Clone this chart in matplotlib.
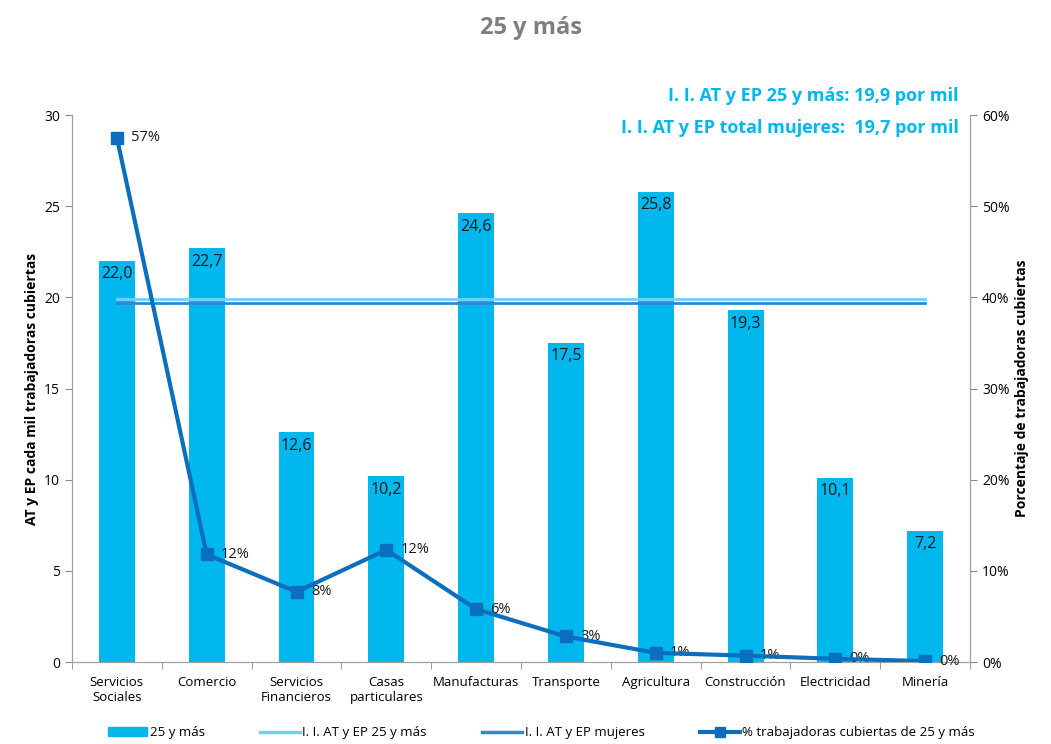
import numpy as np
import matplotlib.pyplot as plt
from matplotlib.lines import Line2D
from matplotlib.patches import Patch

categories = ["Servicios\nSociales", "Comercio", "Servicios\nFinancieros", "Casas\nparticulares",
              "Manufacturas", "Transporte", "Agricultura", "Construcción", "Electricidad", "Minería"]
rate_25 = [22.0, 22.7, 12.6, 10.2, 24.6, 17.5, 25.8, 19.3, 10.1, 7.2]
pct_covered = [57.5, 11.8, 7.7, 12.3, 5.8, 2.8, 1.0, 0.7, 0.35, 0.1]
pct_labels = ["57%", "12%", "8%", "12%", "6%", "3%", "1%", "1%", "0%", "0%"]
ii_25 = 19.9
ii_women = 19.7

plt.rcParams["font.family"] = ["Open Sans", "DejaVu Sans"]

cyan = "#00B7EE"
light = "#6FD3F5"
mid = "#2A8AD4"
dark = "#0B6FBE"
grey = "#888888"

fig = plt.figure(figsize=(10.51, 7.44), dpi=100)
ax = fig.add_axes([0.0685, 0.1102, 0.8545, 0.7352])
ax2 = ax.twinx()

x = np.arange(len(categories))
ax.bar(x, rate_25, width=0.4, color=cyan, zorder=2)
for xi, v in zip(x, rate_25):
    ax.text(xi, v - 0.3, f"{v:.1f}".replace(".", ","), ha="center", va="top",
            fontsize=11.5, color="#1a1a1a", zorder=3)

ax.plot([x[0], x[-1]], [ii_25, ii_25], color=light, lw=2, zorder=3)
ax.plot([x[0], x[-1]], [ii_women, ii_women], color=mid, lw=2, zorder=3)

ax2.plot(x, pct_covered, color=dark, lw=3, marker="s", ms=8, zorder=4)
for xi, v, lab in zip(x, pct_covered, pct_labels):
    ax2.text(xi + 0.16, v, lab, ha="left", va="center", fontsize=10.5, color="#1a1a1a")

ax.set_xlim(-0.5, len(categories) - 0.5)
ax.set_ylim(0, 30)
ax2.set_ylim(0, 60)
ax.set_yticks(range(0, 31, 5))
ax2.set_yticks(range(0, 61, 10))
ax2.set_yticklabels([f"{v}%" for v in range(0, 61, 10)])
ax.set_xticks(x)
ax.set_xticklabels(categories, fontsize=9.5)
ax.set_xticks(np.arange(-0.5, len(categories), 1), minor=True)
ax.tick_params(axis="x", which="major", length=0, pad=10)
ax.tick_params(axis="x", which="minor", length=5, color=grey)
ax.tick_params(axis="y", labelsize=10, color=grey, length=5)
ax2.tick_params(axis="y", labelsize=10, color=grey, length=5)

for a in (ax, ax2):
    a.spines["top"].set_visible(False)
    for s in ("left", "right", "bottom"):
        a.spines[s].set_color("#a0a0a0")

ax.set_ylabel("AT y EP cada mil trabajadoras cubiertas", fontsize=10, fontweight="bold")
ax2.set_ylabel("Porcentaje de trabajadoras cubiertas", fontsize=10, fontweight="bold")

fig.text(0.505, 0.963, "25 y más", ha="center", va="center", fontsize=17,
         fontweight="bold", color="#7f7f7f")
fig.text(0.912, 0.871, "I. I. AT y EP 25 y más: 19,9 por mil", ha="right", va="center",
         fontsize=13, fontweight="bold", color=cyan)
fig.text(0.912, 0.828, "I. I. AT y EP total mujeres:  19,7 por mil", ha="right", va="center",
         fontsize=13, fontweight="bold", color=cyan)

handles = [Patch(color=cyan),
           Line2D([], [], color=light, lw=2.5),
           Line2D([], [], color=mid, lw=2.5),
           Line2D([], [], color=dark, lw=3, marker="s", ms=7)]
labels = ["25 y más", "I. I. AT y EP 25 y más", "I. I. AT y EP mujeres",
          "% trabajadoras cubiertas de 25 y más"]
fig.legend(handles, labels, loc="center", bbox_to_anchor=(0.515, 0.015), ncol=4,
           frameon=False, fontsize=9.5, columnspacing=4.2, handlelength=3, handletextpad=0.2)

fig.savefig("out.png", dpi=100)
